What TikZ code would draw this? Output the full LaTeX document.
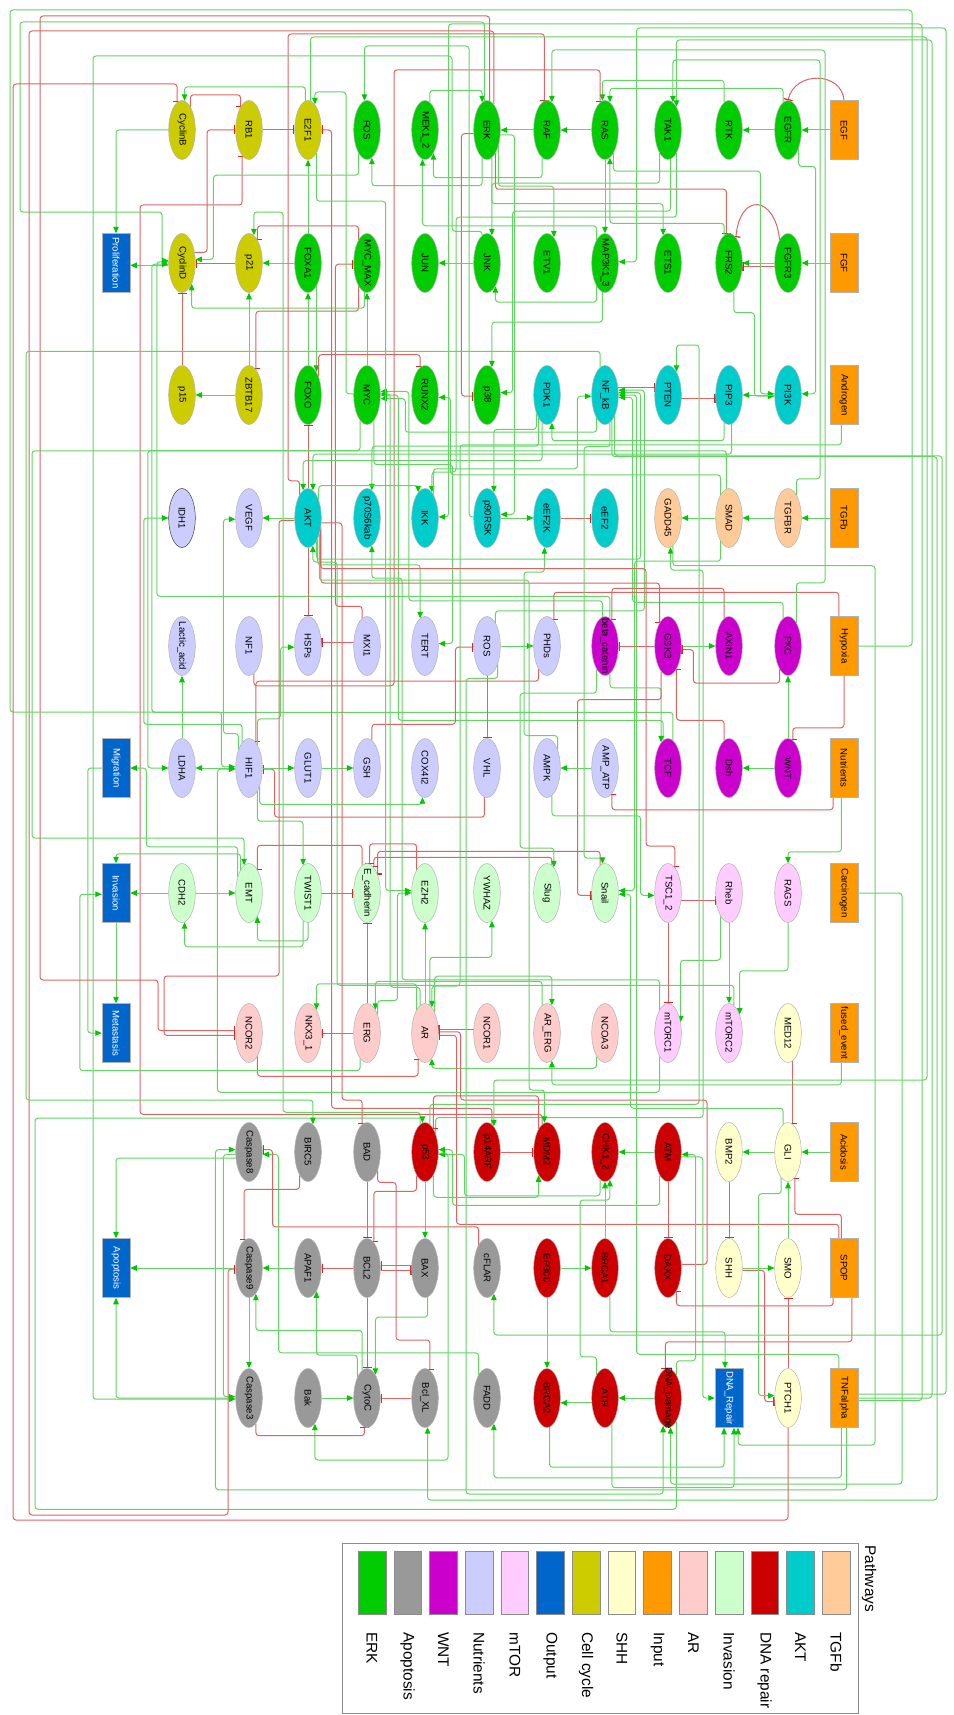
\documentclass[tikz,border=0pt]{standalone}
\usepackage{fontspec}
\setmainfont{Liberation Sans}
\usepackage{graphicx}
\usetikzlibrary{arrows.meta,shapes.geometric}
\definecolor{cERK}{RGB}{0,204,0}
\definecolor{cApo}{RGB}{153,153,153}
\definecolor{cWNT}{RGB}{204,0,204}
\definecolor{cNut}{RGB}{204,204,255}
\definecolor{cmTOR}{RGB}{255,204,255}
\definecolor{cOut}{RGB}{0,102,204}
\definecolor{cCC}{RGB}{204,204,0}
\definecolor{cSHH}{RGB}{255,255,204}
\definecolor{cIn}{RGB}{255,153,0}
\definecolor{cAR}{RGB}{255,204,204}
\definecolor{cInv}{RGB}{204,255,204}
\definecolor{cDNA}{RGB}{204,0,0}
\definecolor{cAKT}{RGB}{0,204,204}
\definecolor{cTGF}{RGB}{255,204,153}
\definecolor{gL}{RGB}{100,212,100}
\definecolor{gT}{RGB}{0,200,0}
\definecolor{rL}{RGB}{222,100,100}
\definecolor{rT}{RGB}{215,40,40}
\pgfdeclarelayer{bg}
\pgfsetlayers{bg,main}
\tikzset{
  nd/.style={ellipse, draw=black!30, line width=0.5pt, minimum width=26.6pt, minimum height=59pt, inner sep=0pt, font=\fontsize{9.6}{10}\selectfont},
  bx/.style={rectangle, draw=black!30, line width=0.5pt, minimum width=28pt, minimum height=59pt, inner sep=0pt, font=\fontsize{9.6}{10}\selectfont},
  erk/.style={nd, fill=cERK}, apo/.style={nd, fill=cApo}, wnt/.style={nd, fill=cWNT},
  nut/.style={nd, fill=cNut}, mtor/.style={nd, fill=cmTOR}, ccy/.style={nd, fill=cCC},
  shh/.style={nd, fill=cSHH}, arn/.style={nd, fill=cAR}, inv/.style={nd, fill=cInv},
  dna/.style={nd, fill=cDNA}, akt/.style={nd, fill=cAKT}, tgf/.style={nd, fill=cTGF},
  inp/.style={bx, fill=cIn}, outp/.style={bx, fill=cOut, text=white},
  act/.style={draw=gL, line width=1pt, rounded corners=3pt, -{Triangle[length=6.5pt,width=5.5pt,color=gT]}},
  inh/.style={draw=rL, line width=1pt, rounded corners=3pt, -{Bar[width=9pt,line width=1.2pt,color=rT]}},
}
\newcommand\mknode[5]{\node[#1] (#2) at (#3,#4) {\rotatebox{-90}{\makebox[0pt]{#5}}};}
\begin{document}
\begin{tikzpicture}[x=1pt,y=-1pt]
\begin{pgfonlayer}{bg}
\fill[white] (0,0) rectangle (953,1715);
\end{pgfonlayer}
\useasboundingbox (0,0) rectangle (953,1715);
% ---- row 1
\mknode{ccy}{CyclinB}{182}{130}{CyclinB}
\mknode{ccy}{RB1}{249}{130}{RB1}
\mknode{ccy}{E2F1}{308}{130}{E2F1}
\mknode{erk}{FOS}{367}{130}{FOS}
\mknode{erk}{MEK12}{425}{130}{MEK1\_2}
\mknode{erk}{ERK}{487}{130}{ERK}
\mknode{erk}{RAF}{547}{130}{RAF}
\mknode{erk}{RAS}{605}{130}{RAS}
\mknode{erk}{TAK1}{668}{130}{TAK1}
\mknode{erk}{RTK}{729}{130}{RTK}
\mknode{erk}{EGFR}{788}{130}{EGFR}
\mknode{inp}{EGF}{844}{130}{EGF}
% ---- row 2
\mknode{outp}{Prolif}{116}{263}{Proliferation}
\mknode{ccy}{CyclinD}{182}{263}{CyclinD}
\mknode{ccy}{p21}{249}{263}{p21}
\mknode{erk}{FOXA1}{308}{263}{FOXA1}
\mknode{erk}{MYCMAX}{367}{263}{MYC\_MAX}
\mknode{erk}{JUN}{425}{263}{JUN}
\mknode{erk}{JNK}{487}{263}{JNK}
\mknode{erk}{ETV1}{547}{263}{ETV1}
\mknode{erk}{MAP3K13}{605}{263}{MAP3K1\_3}
\mknode{erk}{ETS1}{668}{263}{ETS1}
\mknode{erk}{FRS2}{729}{263}{FRS2}
\mknode{erk}{FGFR3}{788}{263}{FGFR3}
\mknode{inp}{FGF}{844}{263}{FGF}
% ---- row 3
\mknode{ccy}{p15}{182}{395}{p15}
\mknode{ccy}{ZBTB17}{249}{395}{ZBTB17}
\mknode{erk}{FOXO}{308}{395}{FOXO}
\mknode{erk}{MYC}{367}{395}{MYC}
\mknode{erk}{RUNX2}{425}{395}{RUNX2}
\mknode{erk}{p38}{487}{395}{p38}
\mknode{akt}{PDK1}{547}{395}{PDK1}
\mknode{akt}{NFkB}{605}{395}{NF\_kB}
\mknode{akt}{PTEN}{668}{395}{PTEN}
\mknode{akt}{PIP3}{729}{395}{PIP3}
\mknode{akt}{PI3K}{788}{395}{PI3K}
\mknode{inp}{Androgen}{844}{395}{Androgen}
% ---- row 4
\node[nd, fill=cNut, draw=black!75] (IDH1) at (182,518) {\rotatebox{-90}{\makebox[0pt]{IDH1}}};
\mknode{nut}{VEGF}{249}{518}{VEGF}
\mknode{akt}{AKT}{308}{518}{AKT}
\mknode{akt}{p70}{367}{518}{p70S6kab}
\mknode{akt}{IKK}{425}{518}{IKK}
\mknode{akt}{p90RSK}{487}{518}{p90RSK}
\mknode{akt}{eEF2K}{547}{518}{eEF2K}
\mknode{akt}{eEF2}{605}{518}{eEF2}
\mknode{tgf}{GADD45}{668}{518}{GADD45}
\mknode{tgf}{SMAD}{729}{518}{SMAD}
\mknode{tgf}{TGFBR}{788}{518}{TGFBR}
\mknode{inp}{TGFb}{844}{518}{TGFb}
% ---- row 5
\mknode{nut}{Lactic}{182}{646}{Lactic\_acid}
\mknode{nut}{NF1}{249}{646}{NF1}
\mknode{nut}{HSPs}{308}{646}{HSPs}
\mknode{nut}{MXI1}{367}{646}{MXI1}
\mknode{nut}{TERT}{425}{646}{TERT}
\mknode{nut}{ROS}{487}{646}{ROS}
\mknode{nut}{PHDs}{547}{646}{PHDs}
\mknode{wnt}{betacat}{605}{646}{beta\_catenin}
\mknode{wnt}{GSK3}{668}{646}{GSK3}
\mknode{wnt}{AXIN1}{729}{646}{AXIN1}
\mknode{wnt}{PKC}{788}{646}{PKC}
\mknode{inp}{Hypoxia}{844}{646}{Hypoxia}
% ---- row 6
\mknode{outp}{Migration}{116}{768}{Migration}
\mknode{nut}{LDHA}{182}{768}{LDHA}
\mknode{nut}{HIF1}{249}{768}{HIF1}
\mknode{nut}{GLUT1}{308}{768}{GLUT1}
\mknode{nut}{GSH}{367}{768}{GSH}
\mknode{nut}{COX4I2}{425}{768}{COX4I2}
\mknode{nut}{VHL}{487}{768}{VHL}
\mknode{nut}{AMPK}{547}{768}{AMPK}
\mknode{nut}{AMPATP}{605}{768}{AMP\_ATP}
\mknode{wnt}{TCF}{668}{768}{TCF}
\mknode{wnt}{Dsh}{729}{768}{Dsh}
\mknode{wnt}{WNT}{788}{768}{WNT}
\mknode{inp}{Nutrients}{844}{768}{Nutrients}
% ---- row 7
\mknode{outp}{Invasion}{116}{893}{Invasion}
\mknode{inv}{CDH2}{182}{893}{CDH2}
\mknode{inv}{EMT}{249}{893}{EMT}
\mknode{inv}{TWIST1}{308}{893}{TWIST1}
\mknode{inv}{Ecad}{367}{893}{E\_cadherin}
\mknode{inv}{EZH2}{425}{893}{EZH2}
\mknode{inv}{YWHAZ}{487}{893}{YWHAZ}
\mknode{inv}{Slug}{547}{893}{Slug}
\mknode{inv}{Snail}{605}{893}{Snail}
\mknode{mtor}{TSC12}{668}{893}{TSC1\_2}
\mknode{mtor}{Rheb}{729}{893}{Rheb}
\mknode{mtor}{RAGS}{788}{893}{RAGS}
\mknode{inp}{Carcinogen}{844}{893}{Carcinogen}
% ---- row 8
\mknode{outp}{Metastasis}{116}{1033}{Metastasis}
\mknode{arn}{NCOR2}{249}{1033}{NCOR2}
\mknode{arn}{NKX31}{308}{1033}{NKX3\_1}
\mknode{arn}{ERG}{367}{1033}{ERG}
\mknode{arn}{AR}{425}{1033}{AR}
\mknode{arn}{NCOR1}{487}{1033}{NCOR1}
\mknode{arn}{ARERG}{547}{1033}{AR\_ERG}
\mknode{arn}{NCOA3}{605}{1033}{NCOA3}
\mknode{mtor}{mTORC1}{668}{1033}{mTORC1}
\mknode{mtor}{mTORC2}{729}{1033}{mTORC2}
\mknode{shh}{MED12}{788}{1033}{MED12}
\mknode{inp}{fused}{844}{1033}{fused\_event}
% ---- row 9
\mknode{apo}{Caspase8}{249}{1152}{Caspase8}
\mknode{apo}{BIRC5}{308}{1152}{BIRC5}
\mknode{apo}{BAD}{367}{1152}{BAD}
\mknode{dna}{p53}{425}{1152}{p53}
\mknode{dna}{p14ARF}{487}{1152}{p14ARF}
\mknode{dna}{MDM2}{547}{1152}{MDM2}
\mknode{dna}{CHK12}{605}{1152}{CHK1\_2}
\mknode{dna}{ATM}{668}{1152}{ATM}
\mknode{shh}{BMP2}{729}{1152}{BMP2}
\mknode{shh}{GLI}{788}{1152}{GLI}
\mknode{inp}{Acidosis}{844}{1152}{Acidosis}
% ---- row 10
\mknode{outp}{Apoptosis}{116}{1268}{Apoptosis}
\mknode{apo}{Caspase9}{249}{1268}{Caspase9}
\mknode{apo}{APAF1}{308}{1268}{APAF1}
\mknode{apo}{BCL2}{367}{1268}{BCL2}
\mknode{apo}{BAX}{425}{1268}{BAX}
\mknode{apo}{cFLAR}{487}{1268}{cFLAR}
\mknode{dna}{EP300}{547}{1268}{EP300}
\mknode{dna}{BRCA1}{605}{1268}{BRCA1}
\mknode{dna}{DAXX}{668}{1268}{DAXX}
\mknode{shh}{SHH}{729}{1268}{SHH}
\mknode{shh}{SMO}{788}{1268}{SMO}
\mknode{inp}{SPOP}{844}{1268}{SPOP}
% ---- row 11
\mknode{apo}{Caspase3}{249}{1398}{Caspase3}
\mknode{apo}{Bak}{308}{1398}{Bak}
\mknode{apo}{CytoC}{367}{1398}{CytoC}
\mknode{apo}{BclXL}{425}{1398}{Bcl\_XL}
\mknode{apo}{FADD}{487}{1398}{FADD}
\mknode{dna}{BRCA2}{547}{1398}{BRCA2}
\mknode{dna}{ATR}{605}{1398}{ATR}
\mknode{dna}{DNAdam}{668}{1398}{DNA\_Damage}
\mknode{outp}{DNArep}{729}{1398}{DNA\_Repair}
\mknode{shh}{PTCH1}{788}{1398}{PTCH1}
\mknode{inp}{TNFa}{844}{1398}{TNFalpha}

\begin{pgfonlayer}{bg}
% cell cycle
\draw[act] (CyclinB.west) -| (Prolif.north);
\draw[act] (CyclinD.190) -- (CyclinD.190 -| Prolif.east);
\draw[inh] (CyclinB.70) -- ++(0,-12) -| (RB1.110);
\draw[inh] (CyclinD.40) -| (207,130) -- (RB1.west);
\draw[inh] (RB1) -- (E2F1);
\draw[inh] (p21) -- (CyclinD);
\draw[inh] (p15) -- (CyclinD);
\draw[act] (ZBTB17) -- (p15);
\draw[act] (ZBTB17) -- (p21);
\draw[inh] (MYCMAX.250) -- ++(0,25) -| (ZBTB17.75);
\draw[act] (E2F1.95) -- ++(0,-14) -| (CyclinB.85);
\draw[act] (FOXA1) -- (E2F1);
\draw[act] (FOXA1) -- (p21);
\draw[act] (FOXO) -- (FOXA1);
\draw[act] (FOXA1.290) -- (FOXO.70);
\draw[act] (MYC) -- (MYCMAX);
\draw[act] (TCF.100) -- ++(0,-20) -| ([xshift=17.7pt]MYC.0) -- (MYC.0);
\draw[act] (NFkB.250) -- ++(0,14) -| ([xshift=24.8pt]MYC.345) -- (MYC.345);
\draw[act] (betacat.95) -- ++(0,-16) -| ([xshift=28.3pt]MYC.15) -- (MYC.15);
\draw[act] (AR.100) -- ++(0,-18) -| ([xshift=9.7pt]MYC.5) -- (MYC.5);
\draw[inh] (MYCMAX.110) -- ++(0,-14) -| (p21.70);
\draw[inh] (MXI1.100) -- ++(0,-12) -| ([xshift=-18pt]MYCMAX.185) -- (MYCMAX.185);
\draw[act] (p53.100) -- ++(0,-12) -| (283,212) -| (p21.80);
\draw[act] (betacat.80) -- ++(0,-22) -| ([xshift=-11.6pt]CyclinD.175) -- (CyclinD.175);
\draw[act] (TCF.80) -- ++(0,-28) -| ([xshift=-16.6pt]CyclinD.185) -- (CyclinD.185);
\draw[act] (MYCMAX.265) -- ++(0,16) -| (CyclinD.295);
\draw[inh] (MDM2.100) -- ++(0,-10) -| (140,205) -| (RB1.255);
\draw[inh] (p14ARF.80) -- ++(0,-16) -| ([xshift=10pt]E2F1.east) -- (E2F1.east);
\draw[act] (MYC.175) -| (346,92) -| (E2F1.75);
% ERK pathway
\draw[act] (RAS) -- (RAF);
\draw[act] (RAF) -- (ERK);
\draw[act] (RAF.260) -- ++(0,20) -| (MEK12.290);
\draw[act] (MEK12.80) -- ++(0,-12) -| (ERK.100);
\draw[act] (ERK.260) -- ++(0,28) -| (FOS.280);
\draw[act] (ERK.280) -- ++(0,46) -| (ETS1.100);
\draw[inh] (ERK.290) -- ++(0,36) -| (FRS2.95);
\draw[inh] (ERK.195) -| ([xshift=-12pt]p38.185) -- (p38.185);
\draw[act] (EGF) -- (EGFR);
\draw[inh] (EGF.north) .. controls (842,72) and (795,70) .. (EGFR.north);
\draw[act] (EGFR) -- (RTK);
\draw[act] (FGF) -- (FGFR3);
\draw[act] (FGFR3) -- (FRS2);
\draw[inh] (FGFR3.195) -- (FRS2.345);
\draw[inh] (FGFR3.110) .. controls (775,195) and (740,192) .. (FRS2.75);
\draw[act] (EGFR.100) -- ++(0,-14) -| (RAS.80);
\draw[act] (FRS2.100) -- ++(0,-12) -| (RAS.280);
\draw[act] (RTK.100) -- ++(0,-22) -| (RAS.95);
\draw[inh] (NF1.280) -- ++(0,12) -| (394,70) -| (RAS.100);
\draw[act] (RAS) -- (MAP3K13);
\draw[act] (RAS.290) -- ++(0,18) -| ([xshift=-14pt]PI3K.175) -- (PI3K.175);
\draw[act] (EGFR.300) -- ++(0,18) -| ([xshift=14pt]PI3K.5) -- (PI3K.5);
\draw[act] (FRS2.280) -- ++(0,22) -| ([xshift=-20pt]PI3K.185) -- (PI3K.185);
\draw[act] (PI3K) -- (PIP3);
\draw[inh] (PTEN.345) -- (PIP3.195);
\draw[act] (PIP3.260) -- ++(0,18) -| (PDK1.280);
\draw[act] (PIP3.275) -- ++(0,30) -| (AKT.80);
\draw[act] (PDK1.260) -- ++(0,38) -| (AKT.100);
\draw[act] (mTORC2.80) -- ++(0,-20) -| (337,562) -| (AKT.280);
\draw[act] (PDK1.250) -- ++(0,28) -| (p70.80);
\draw[act] (mTORC1.110) -- ++(0,-30) -| (402,578) -| (p70.280);
\draw[act] (ERK.340) -| ([xshift=14pt]p90RSK.15) -- (p90RSK.15);
\draw[act] (PDK1.240) -- ++(0,16) -| (p90RSK.75);
\draw[act] (p90RSK) -- (eEF2K);
\draw[inh] (eEF2K) -- (eEF2);
\draw[act] (AMPK.60) -- ++(0,-14) -| (524,572) -| (eEF2K.265);
\draw[act] (TAK1.250) -- ++(0,30) -| (JNK.80);
\draw[act] (TAK1.275) -- ++(0,52) -| ([xshift=12pt]p38.10) -- (p38.10);
\draw[act] (TAK1.290) -- ++(0,64) -| (456,472) -| (IKK.75);
\draw[act] (MAP3K13.250) -- ++(0,16) -| (JNK.290);
\draw[act] (MAP3K13.265) -- ++(0,30) -| (p38.80);
\draw[act] (JNK) -- (JUN);
\draw[act] (ERK.305) -- ++(0,40) -| (ETV1.75);
\draw[act] (MAP3K13.110) -- ++(0,-14) -| (MEK12.265);
\draw[act] (FOS.250) -- ++(0,22) -| ([xshift=18pt]CyclinD.15) -- (CyclinD.15);
\draw[inh] (FOXO.60) -- ++(0,-22) -| (RUNX2.100);
\draw[act] (SMAD.110) -- ++(0,-20) -| ([xshift=12pt]RUNX2.350) -- (RUNX2.350);
\draw[act] (p90RSK.175) -| (469,46) -| (FOS.95);
% TGFb
\draw[act] (TGFBR) -- (SMAD);
\draw[act] (TGFb) -- (TGFBR);
\draw[act] (SMAD) -- (GADD45);
\draw[act] (TGFBR.70) -- ++(0,-16) -| (820,60) -| (TAK1.80);
\draw[act] (p53.60) -- ++(0,-16) -| (703,570) -| (GADD45.275);
\draw[act] (SMAD.250) -- ++(0,20) -| ([xshift=16pt]Snail.10) -- (Snail.10);
% AKT / NFkB
\draw[act] (AKT.60) -- ++(0,-14) -| (IKK.105);
\draw[act] (IKK.70) -- ++(0,-26) -| ([xshift=-14pt]NFkB.185) -- (NFkB.185);
\draw[act] (TNFa.100) -- ++(0,-14) -| ([xshift=18pt]NFkB.0) -- (NFkB.0);
\draw[act] (PKC.100) -- ++(0,-16) -| ([xshift=14pt]NFkB.350) -- (NFkB.350);
\draw[act] (AKT.290) -- ++(0,18) -| ([xshift=22pt]NFkB.10) -- (NFkB.10);
\draw[act] (ROS.70) -- ++(0,-12) -| ([xshift=26pt]NFkB.20) -- (NFkB.20);
\draw[inh] (NFkB.30) -- (PTEN.150);
\draw[act] (p53.80) -- ++(0,-20) -| (699,345) -| (PTEN.70);
\draw[inh] (AKT) -- (FOXO);
\draw[inh] (AKT.325) -- ++(0,56) -| (GSK3.110);
\draw[inh] (AKT.110) -- ++(0,-14) -| (288,34) -| (RAF.95);
% AR
\draw[act] (Androgen.265) -- ++(0,20) -| (460,986) -| (AR.75);
\draw[inh] (NCOR1.165) -- (AR.15);
\draw[inh] (NCOR2.290) -- ++(0,20) -| (AR.255);
\draw[act] (NCOA3.250) -- ++(0,12) -| (AR.285);
\draw[act] (AR.110) -- ++(0,-26) -| (NKX31.70);
\draw[inh] (ERG) -- (NKX31);
\draw[act] (ARERG.100) -- ++(0,-24) -| (ERG.70);
\draw[act] (AR.65) -- ++(0,-36) -| (ARERG.80);
\draw[act] (fused.265) -- ++(0,22) -| (ARERG.280);
\draw[inh] (ERG) -- (Ecad);
\draw[act] (AR) -- (EZH2);
\draw[act] (AR.80) -- ++(0,-48) -| (YWHAZ.280);
\draw[inh] (SPOP.100) -- ++(0,-14) -| ([xshift=18pt]AR.350) -- (AR.350);
\draw[inh] (MED12.280) -- (GLI.80);
\draw[inh] (DAXX.15) -| (707,1100) -| ([xshift=22pt]AR.5) -- (AR.5);
\draw[act] (ERG.255) -- ++(0,12) -| ([xshift=-22pt]Invasion.185) -- (Invasion.185);
% nutrients
\draw[inh] (Hypoxia.100) -- ++(0,-24) -| (PHDs.75);
\draw[inh] (PHDs.250) -- ++(0,12) -| (HIF1.75);
\draw[inh] (VHL.265) -- ++(0,20) -| ([xshift=12pt]HIF1.355) -- (HIF1.355);
\draw[inh] (ROS) -- (VHL);
\draw[act] (ROS) -- (PHDs);
\draw[inh] (GSH.80) -- ++(0,-16) -| ([xshift=-18pt]ROS.185) -- (ROS.185);
\draw[act] (HIF1) -- (LDHA);
\draw[act] (HIF1) -- (GLUT1);
\draw[act] (HIF1.120) -- ++(0,-16) -| ([xshift=-12pt]VEGF.185) -- (VEGF.185);
\draw[act] (HIF1.300) -- ++(0,18) -| (COX4I2.265);
\draw[act] (HIF1.70) -- ++(0,-26) -| ([xshift=-14pt]HSPs.185) -- (HSPs.185);
\draw[act] (GLUT1) -- (GSH);
\draw[inh] (AKT) -- (HSPs);
\draw[inh] (MXI1.165) -- (HSPs.15);
\draw[act] (MYC.285) -- ++(0,44) -| ([xshift=14pt]TERT.10) -- (TERT.10);
\draw[act] (AKT.295) -- ++(0,26) -| (TERT.100);
\draw[act] (AKT) -- (VEGF);
\draw[act] (LDHA) -- (Lactic);
\draw[act] (HIF1.105) -- ++(0,-18) -| ([xshift=-24.7pt]IDH1.180) -- (IDH1.180);
\draw[act] (MYC.255) -- ++(0,30) -| ([xshift=-20.7pt]LDHA.180) -- (LDHA.180);
\draw[act] (mTORC1.250) -- ++(0,36) -| ([xshift=-18pt]HIF1.185) -- (HIF1.185);
% WNT
\draw[act] (WNT) -- (Dsh);
\draw[inh] (Dsh.100) -- ++(0,-20) -| (GSK3.290);
\draw[act] (GSK3) -- (AXIN1);
\draw[inh] (GSK3) -- (betacat);
\draw[inh] (AXIN1.100) -- ++(0,-30) -| (betacat.75);
\draw[act] (betacat.280) -- ++(0,14) -| (TCF.105);
\draw[inh] (GSK3.255) -- ++(0,28) -| ([xshift=-14pt]Snail.190) -- (Snail.190);
\draw[act] (WNT) -- (PKC);
\draw[inh] (PKC.250) -- ++(0,14) -| ([xshift=12pt]GSK3.345) -- (GSK3.345);
\draw[inh] (Hypoxia.270) -- ++(0,52) -| (WNT.80);
\draw[act] (Nutrients.265) -- ++(0,54) -| (RAGS.north);
\draw[inh] (Nutrients.250) -- ++(0,12) -| (AMPATP.285);
\draw[act] (AMPATP) -- (AMPK);
% mTOR
\draw[act] (AMPK.280) -- ++(0,20) -| ([xshift=-14pt]TSC12.190) -- (TSC12.190);
\draw[inh] (AKT.320) -- ++(0,40) -| (646,846) -| (TSC12.75);
\draw[inh] (TSC12.330) -- (Rheb.210);
\draw[inh] (TSC12) -- (mTORC1);
\draw[act] (Rheb.250) -- ++(0,44) -| (mTORC1.40);
\draw[act] (Rheb) -- (mTORC2);
\draw[act] (RAGS.270) -- ++(0,48) -| (mTORC2.60);
% invasion
\draw[act] (CDH2) -- (EMT);
\draw[act] (TWIST1.270) -- ++(0,18) -| (EMT.290);
\draw[inh] (Ecad.100) -- ++(0,-20) -| (EMT.70);
\draw[inh] (Snail.100) -- ++(0,-14) -| (Ecad.60);
\draw[inh] (Slug.80) -- ++(0,-8) -| (Ecad.75);
\draw[inh] (TWIST1) -- (Ecad);
\draw[inh] (EZH2.110) -- ++(0,-26) -| (Ecad.85);
\draw[act] (ERG.60) -- ++(0,-14) -| ([xshift=-14pt]EZH2.180) -- (EZH2.180);
\draw[act] (E2F1.290) -- ++(0,48) -| ([xshift=-25.8pt]EZH2.170) -- (EZH2.170);
\draw[act] (EMT.110) -- ++(0,-16) -| (Invasion.north);
\draw[act] (CDH2) -- (Invasion);
\draw[act] (EMT.125) -- ++(0,-30) -| ([xshift=16pt]Migration.east) -- (Migration.east);
\draw[act] (Migration.west) -- ++(-14,0) |- (Metastasis.west);
\draw[act] (Invasion) -- (Metastasis);
\draw[act] (betacat.250) -- ++(0,24) -| (520,848) -| (Slug.75);
\draw[act] (TWIST1.260) -- ++(0,26) -| (CDH2.275);
\draw[act] (HIF1.290) -- ++(0,30) -| (TWIST1.100);
\draw[act] (GLI.100) -- ++(0,-16) -| ([xshift=12pt]Snail.355) -- (Snail.355);
\draw[act] (NFkB.280) -- ++(0,24) -| (584,858) -| (Snail.95);
\draw[act] (SMAD.95) -- ++(0,-38) -| (32,838) -| (EMT.100);
% DNA repair
\draw[inh] (p14ARF) -- (MDM2);
\draw[inh] (MDM2.110) -- ++(0,-33) -| (p53.70);
\draw[act] (p53.290) -- ++(0,22) -| (MDM2.250);
\draw[act] (ATM.250) -- ++(0,30) -| ([xshift=14pt]p53.10) -- (p53.10);
\draw[act] (CHK12.260) -- ++(0,16) -| ([xshift=26pt]p53.350) -- (p53.350);
\draw[act] (ATM) -- (CHK12);
\draw[act] (ATR.110) -- ++(0,-18) -| (580,1200) -| (CHK12.280);
\draw[act] (BRCA1) -- (CHK12);
\draw[act] (EP300) -- (BRCA1);
\draw[act] (EP300) -- (BRCA2);
\draw[act] (DNAdam) -- (ATR);
\draw[act] (ATR.200) -- (BRCA2.340);
\draw[act] (DNAdam.70) -- ++(0,-14) -| ([xshift=14pt]ATM.350) -- (ATM.350);
\draw[inh] (ATM) -- (DAXX);
\draw[act] (BRCA1.280) -- ++(0,36) -| ([xshift=-4pt]DNArep.north);
\draw[act] (BRCA2.275) -- ++(0,40) -| ([xshift=-5pt]DNArep.south);
\draw[act] (ATR.285) -- ++(0,64) -| ([xshift=5pt]DNArep.south);
\draw[act] (ATM.340) -| ([xshift=-12pt]DNArep.west) -- (DNArep.west);
\draw[act] (AKT.305) -- ++(0,46) -| (529,1090) -| (MDM2.95);
\draw[act] (GADD45.280) -- ++(0,20) -| (875,1445) -| ([xshift=9pt]DNArep.south);
\draw[act] (DNAdam.290) -- ++(0,88) -| (35,1118) -| (p53.95);
\draw[act] (E2F1.85) |- (927,37) -- (927,1080) -| (p14ARF.75);
% apoptosis
\draw[act] (p53) -- (BAX);
\draw[inh] (AKT.340) -| (342,1100) -| (BAD.100);
\draw[inh] (BAD) -- (BCL2);
\draw[inh] (BAX.170) -- (BCL2.10);
\draw[inh] (BCL2.350) -- (BAX.190);
\draw[inh] (BCL2) -- (APAF1);
\draw[inh] (BCL2) -- (CytoC);
\draw[act] (BAX.275) -- ++(0,20) -| (CytoC.70);
\draw[act] (Bak) -- (CytoC);
\draw[inh] (BclXL) -- (CytoC);
\draw[act] (CytoC.115) -- ++(0,-22) -| (APAF1.290);
\draw[act] (CytoC.100) -- ++(0,-40) -| (Caspase9.285);
\draw[act] (APAF1) -- (Caspase9);
\draw[act] (Caspase9) -- (Caspase3);
\draw[act] (Caspase8.190) -| ([xshift=-12pt]Caspase3.175) -- (Caspase3.175);
\draw[act] (Caspase3.west) -| (Apoptosis.south);
\draw[act] (Caspase9) -- (Apoptosis);
\draw[act] (Caspase8.205) -| (Apoptosis.north);
\draw[act] (FADD.110) -- ++(0,-22) -| ([xshift=16pt]Caspase8.350) -- (Caspase8.350);
\draw[inh] (cFLAR.110) -- ++(0,-18) -| ([xshift=10pt]Caspase8.10) -- (Caspase8.10);
\draw[act] (TNFa.265) -- ++(0,50) -| (FADD.285);
\draw[inh] (BIRC5.250) -- ++(0,14) -| (Caspase9.100);
\draw[inh] (p53.250) -- ++(0,16) -| (BCL2.75);
\draw[act] (TNFa.275) -- ++(0,62) -| ([xshift=-20pt]Caspase8.170) -- (Caspase8.170);
\draw[inh] (BAD.300) -- ++(0,12) -| (396,1340) -| (BclXL.80);
\draw[act] (p53.355) -| (448,1460) -| (Bak.285);
\draw[inh] (Caspase3.285) -- ++(0,12) -| (CytoC.265);
% SHH
\draw[act] (GLI) -- (BMP2);
\draw[inh] (BMP2) -- (SHH);
\draw[act] (SHH) -- (SMO);
\draw[inh] (PTCH1) -- (SMO);
\draw[inh] (SHH.350) -| ([xshift=-10pt]PTCH1.195) -- (PTCH1.195);
\draw[act] (SMO) -- (GLI);
\draw[act] (GLI.255) -- ++(0,16) -| ([xshift=-16pt]PTCH1.170) -- (PTCH1.170);
\draw[inh] (SPOP.250) -- ++(0,8) -| (DAXX.290);
\draw[inh] (SPOP.285) -- ++(0,44) -| (DNAdam.95);
\draw[inh] (SPOP.95) -- ++(0,-24) -| (GLI.285);
\draw[act] (Acidosis) -- (GLI);
% long, perimeter routes
\draw[act] (Carcinogen.east) -| (902,1484) -| (DNAdam.275);
\draw[act] (ROS.300) -- ++(0,14) -| (466,1494) -| (DNAdam.260);
\draw[act] (TNFa.east) -| (932,40) -| (TAK1.70);
\draw[act] (TNFa.15) -| (946,28) -| ([xshift=18pt]MAP3K13.5) -- (MAP3K13.5);
\draw[act] (TNFa.350) -| (922,24) -| ([xshift=10pt]IKK.5) -- (IKK.5);
\draw[act] (ERK.95) |- (20,22) |- (162,212) |- (CyclinD.170);
\draw[inh] (ERK.85) |- (40,16) |- (158,980) |- (NCOR2.170);
\draw[inh] (ERK.75) |- (29,31) |- (228,1515) |- (Caspase9.185);
\draw[inh] (AKT.190) -| (279,976) -| (164,990) |- (NCOR2.190);
\draw[act] (JNK.100) -- ++(0,-4) -| (452,56) -| (93,1380) |- (Caspase3.185);
\draw[act] (Hypoxia.east) -| (912,10) -| (10,712) -| ([xshift=-14pt]HIF1.175) -- (HIF1.175);
\draw[act] (PKC.70) -- ++(0,-40) -| (825,50) -| (RAF.80);
\draw[act] (NFkB.100) -- ++(0,-16) -| (26,1100) -| (BIRC5.80);
\draw[act] (NFkB.285) -- ++(0,36) -| (937,1500) -| (BclXL.275);
\draw[act] (NFkB.295) -- ++(0,40) -| (942,1335) -| (cFLAR.285);
\draw[inh] (PTCH1.270) |- (13,1520) -- (13,84) -| (CyclinB.100);
\end{pgfonlayer}

% ---- legend
\node[draw=black!45, line width=0.7pt, minimum width=516pt, minimum height=170pt, inner sep=0pt] (legend) at (600,1628) {};
\foreach \c/\t [count=\i from 0] in {cERK/ERK, cApo/Apoptosis, cWNT/WNT, cNut/Nutrients, cmTOR/mTOR, cOut/Output, cCC/Cell cycle, cSHH/SHH, cIn/Input, cAR/AR, cInv/Invasion, cDNA/DNA repair, cAKT/AKT, cTGF/TGFb} {
  \pgfmathsetmacro\xx{372+35.7*\i}
  \node[rectangle, fill=\c, draw=black!45, line width=0.6pt, minimum width=27.7pt, minimum height=63pt, inner sep=0pt] (lg\i) at (\xx,1582.5) {};
  \node[anchor=north, inner sep=0pt, font=\fontsize{15.4}{16}\selectfont] (lt\i) at (\xx,1632) {\rotatebox{-90}{\t}};
}
\node[anchor=north, inner sep=0pt, font=\fontsize{15.4}{16}\selectfont] (ttl) at (869,1545) {\rotatebox{-90}{Pathways}};
\end{tikzpicture}
\end{document}
